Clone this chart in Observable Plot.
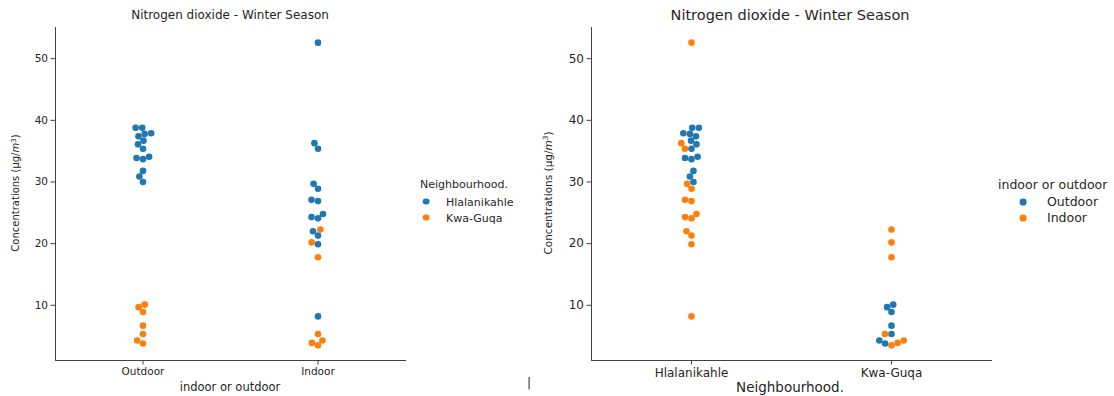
<!DOCTYPE html>
<html><head><meta charset="utf-8">
<script src="https://cdn.jsdelivr.net/npm/d3@7"></script>
<script src="https://cdn.jsdelivr.net/npm/@observablehq/plot@0.6"></script>
<style>
body{margin:0;background:#fff;}
#wrap{position:relative;width:1114px;height:396px;overflow:hidden;font-family:"DejaVu Sans",sans-serif;color:#262626;background:#fff;}
.abs{position:absolute;white-space:nowrap;line-height:1;}
.ctr{transform:translate(-50%,-50%);}
.vl{transform:translate(-50%,-50%) rotate(-90deg);}
.dot{position:absolute;width:6.8px;height:6.8px;border-radius:50%;transform:translate(-50%,-50%);}
.lt{transform:translate(0,-50%);}
svg{position:absolute;top:0;}
</style></head><body><div id="wrap"></div>
<script>
// ---- data ----
const neighbourhoods = ["Hlalanikahle", "Kwa-Guqa"];
const locations = ["Outdoor", "Indoor"];
const hlalanikahleOutdoor = [38.8, 38.8, 37.9, 37.8, 37.4, 36.7, 36.1, 35.4, 34.1, 33.9, 33.7, 31.8, 30.9, 30.0];
const hlalanikahleIndoor  = [52.6, 36.3, 35.4, 29.7, 28.9, 27.1, 26.9, 24.8, 24.3, 24.1, 22.0, 21.3, 19.9, 8.2];
const kwaGuqaOutdoor      = [10.1, 9.7, 8.9, 6.7, 5.35, 4.3, 3.8];
const kwaGuqaIndoor       = [22.3, 20.2, 17.8, 5.35, 4.3, 3.9, 3.5];
const yTicks = [10, 20, 30, 40, 50];
const colors = ["#1f77b4", "#ff7f0e"];
const title = "Nitrogen dioxide - Winter Season";

const rows = [];
function add(n, l, vals) { for (const v of vals) rows.push({neighbourhood: n, location: l, value: v}); }
add("Hlalanikahle", "Outdoor", hlalanikahleOutdoor);
add("Hlalanikahle", "Indoor", hlalanikahleIndoor);
add("Kwa-Guqa", "Outdoor", kwaGuqaOutdoor);
add("Kwa-Guqa", "Indoor", kwaGuqaIndoor);
rows.sort((a, b) => a.value - b.value);

const [ymin, ymax] = d3.extent(rows, d => d.value);
const pad = (ymax - ymin) * 0.05;
const yDomain = [ymin - pad, ymax + pad];

function panel({facetBy, facetDomain, colorBy, colorDomain, width, marginLeft, marginRight, fontSize}) {
  return Plot.plot({
    width, height: 396, marginTop: 27, marginBottom: 36, marginLeft, marginRight,
    style: {fontFamily: "DejaVu Sans", fontSize: fontSize + "px", color: "#262626", background: "transparent", overflow: "visible"},
    y: {domain: yDomain},
    fx: {domain: facetDomain, padding: 0},
    color: {domain: colorDomain, range: colors},
    marks: [
      Plot.frame({anchor: "left", facetAnchor: "left", stroke: "#404040"}),
      Plot.frame({anchor: "bottom", stroke: "#404040"}),
      Plot.axisY({ticks: yTicks, tickSize: 4.5, tickPadding: 3, label: null, fontSize, stroke: "#404040"}),
      Plot.axisFx({anchor: "bottom", tickSize: 4.5, tickPadding: 3, label: null, fontSize, stroke: "#404040"}),
      Plot.dot(rows, Plot.dodgeX({anchor: "middle", padding: 0, fx: facetBy, y: "value", r: 3.3, fill: colorBy}))
    ]
  });
}

const wrap = document.getElementById("wrap");
const left = panel({facetBy: "location", facetDomain: locations, colorBy: "neighbourhood", colorDomain: neighbourhoods,
  width: 410, marginLeft: 55, marginRight: 4.5, fontSize: 10.5});
left.style.left = "0px";
wrap.appendChild(left);
const right = panel({facetBy: "neighbourhood", facetDomain: neighbourhoods, colorBy: "location", colorDomain: locations,
  width: 480, marginLeft: 71, marginRight: 9, fontSize: 12});
right.style.left = "520px";
wrap.appendChild(right);

function txt(html, x, y, size, cls) {
  const d = document.createElement("div");
  d.className = "abs " + (cls || "ctr");
  d.style.left = x + "px"; d.style.top = y + "px"; d.style.fontSize = size + "px";
  d.innerHTML = html;
  wrap.appendChild(d);
}
function dot(x, y, c) {
  const d = document.createElement("div");
  d.className = "dot"; d.style.left = x + "px"; d.style.top = y + "px"; d.style.background = c;
  wrap.appendChild(d);
}
const ylab = "Concentrations (μg/<i>m</i><sup style='font-size:0.7em;vertical-align:0.5em;line-height:0'>3</sup>)";
// left panel texts
txt(title, 230, 15, 12);
txt("indoor or outdoor", 230, 388, 11.5);
txt(ylab, 16, 193, 10, "vl");
txt("Neighbourhood.", 420, 184, 11, "lt");
neighbourhoods.forEach((n, i) => { dot(426, 201.7 + i * 16, colors[i]); txt(n, 446, 201.7 + i * 16, 11, "lt"); });
// right panel texts
txt(title, 790, 15, 14.5);
txt("Neighbourhood.", 790, 388, 13.5);
txt(ylab, 548, 193, 10.5, "vl");
txt("indoor or outdoor", 998, 185, 12.5, "lt");
locations.forEach((n, i) => { dot(1023, 202 + i * 16, colors[i]); txt(n, 1047, 202 + i * 16, 12.5, "lt"); });
txt("|", 529, 383, 12);
</script></body></html>
